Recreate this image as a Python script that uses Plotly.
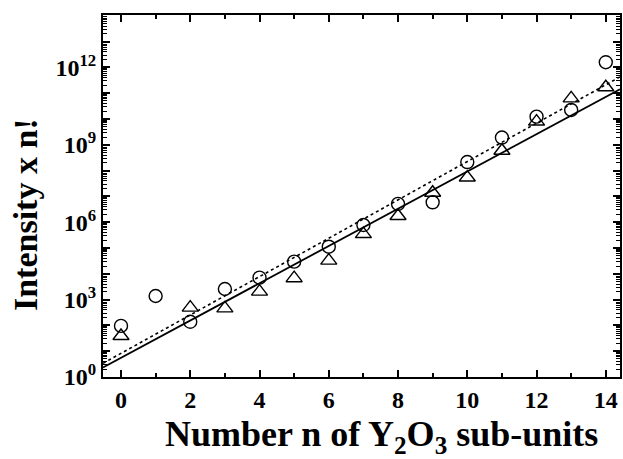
import plotly.graph_objects as go

# Data
n_circ = [0, 1, 2, 3, 4, 5, 6, 7, 8, 9, 10, 11, 12, 13, 14]
log_circ = [1.98, 3.14, 2.14, 3.41, 3.85, 4.47, 5.05, 5.89, 6.71, 6.77, 8.33, 9.28, 10.09, 10.35, 12.2]
n_tri = [0, 2, 3, 4, 5, 6, 7, 8, 9, 10, 11, 12, 13, 14]
log_tri = [1.59, 2.69, 2.66, 3.31, 3.83, 4.51, 5.54, 6.24, 7.14, 7.73, 8.77, 9.9, 10.8, 11.23]

# Fit lines (end points)
fit_x = [-0.52, 14.41]
log_fit_solid = [0.37, 11.15]
log_fit_dotted = [0.53, 11.63]

circ_y = [10 ** v for v in log_circ]
tri_y = [10 ** v for v in log_tri]
solid_y = [10 ** v for v in log_fit_solid]
dotted_y = [10 ** v for v in log_fit_dotted]

decades = list(range(0, 15))
ytick_vals = [10 ** d for d in decades]
ytick_text = [("10<sup>%d</sup>" % d) if d % 3 == 0 and d <= 12 else "" for d in decades]
yminor_vals = [m * 10 ** d for d in range(0, 14) for m in range(2, 10)]
xtick_vals = [0, 2, 4, 6, 8, 10, 12, 14]

x_title = "<b>Number n of Y<sub>2</sub>O<sub>3</sub> sub-units</b>"
y_title = "<b>Intensity x n!</b>"

fig = go.Figure()
fig.add_trace(go.Scatter(x=fit_x, y=solid_y, mode="lines",
                         line=dict(color="black", width=1.8), showlegend=False))
fig.add_trace(go.Scatter(x=fit_x, y=dotted_y, mode="lines",
                         line=dict(color="black", width=1.6, dash="dot"), showlegend=False))
fig.add_trace(go.Scatter(x=n_circ, y=circ_y, mode="markers",
                         marker=dict(symbol="circle-open", size=13, color="black",
                                     line=dict(width=1.4, color="black")),
                         showlegend=False))
fig.add_trace(go.Scatter(x=n_tri, y=tri_y, mode="markers",
                         marker=dict(symbol="triangle-up-open", size=14, color="black",
                                     line=dict(width=1.4, color="black")),
                         showlegend=False))

fig.update_layout(
    width=623, height=459,
    margin=dict(l=103, r=3, t=15, b=82),
    paper_bgcolor="white", plot_bgcolor="white",
    font=dict(family="Liberation Serif", color="black"),
    annotations=[
        dict(text=x_title, xref="paper", yref="paper", x=0.538, y=-0.165,
             xanchor="center", yanchor="middle", showarrow=False,
             font=dict(size=36, family="Liberation Serif", color="black")),
        dict(text=y_title, xref="paper", yref="paper", x=-0.151, y=0.45,
             xanchor="center", yanchor="middle", showarrow=False, textangle=-90,
             font=dict(size=34, family="Liberation Serif", color="black")),
    ],
)
fig.update_xaxes(
    range=[-0.52, 14.41], automargin=False,
    tickmode="array", tickvals=xtick_vals,
    ticktext=["<b>%d</b>" % v for v in xtick_vals],
    ticks="inside", ticklen=7, tickwidth=1.5, tickcolor="black",
    minor=dict(ticks="inside", ticklen=4, tickwidth=1.5, tickcolor="black",
               tickvals=[1, 3, 5, 7, 9, 11, 13]),
    showline=True, linewidth=2, linecolor="black", mirror="ticks",
    showgrid=False, zeroline=False,
    tickfont=dict(size=24, family="Liberation Serif"),
)
fig.update_yaxes(
    type="log", range=[0, 14.03], automargin=False,
    tickmode="array", tickvals=ytick_vals,
    ticktext=["<b>%s</b>" % t if t else "" for t in ytick_text],
    ticks="inside", ticklen=7, tickwidth=1.5, tickcolor="black",
    minor=dict(ticks="inside", ticklen=4, tickwidth=1.2, tickcolor="black",
               tickvals=yminor_vals),
    showline=True, linewidth=2, linecolor="black", mirror="ticks",
    showgrid=False, zeroline=False,
    tickfont=dict(size=24, family="Liberation Serif"),
)

fig.write_html("out.html")
